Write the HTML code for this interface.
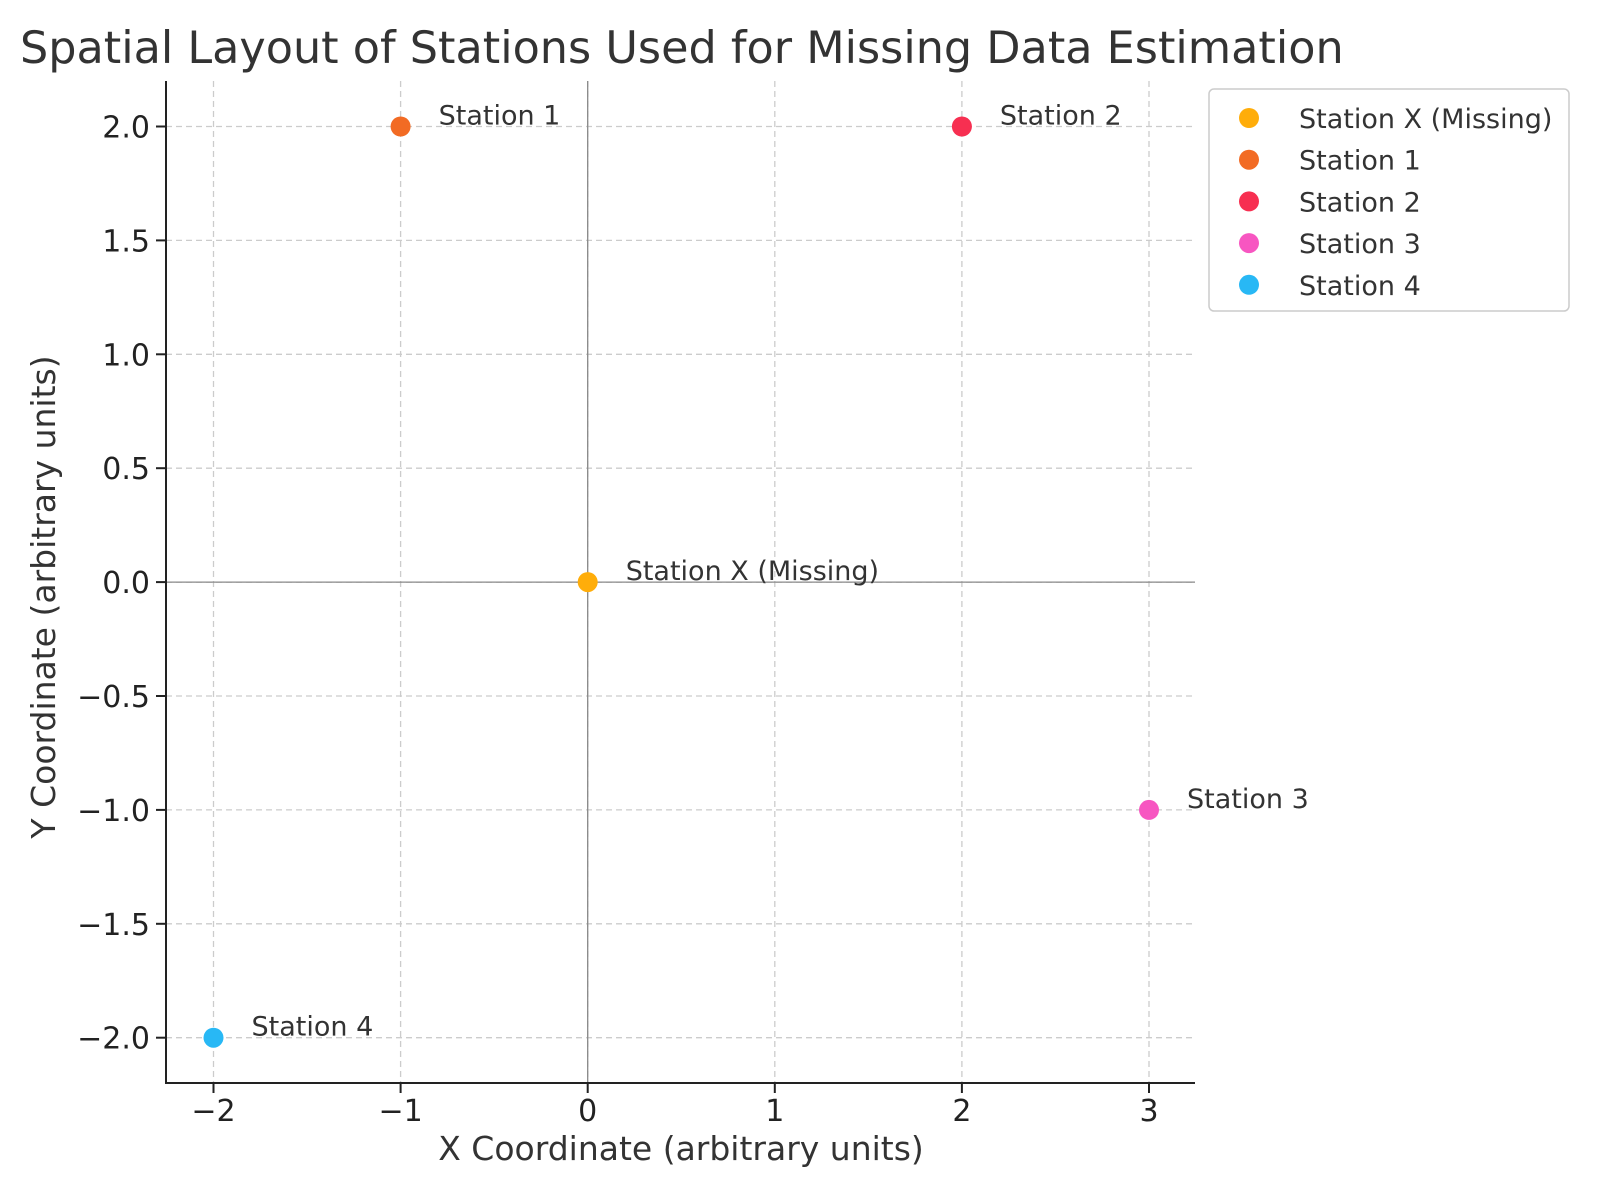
<!DOCTYPE html>
<html><head><meta charset="utf-8"><style>
body{margin:0;background:#fff}
svg{display:block;font-family:"DejaVu Sans","Liberation Sans",sans-serif}
</style></head><body>
<svg id="chart" width="1600" height="1200" viewBox="0 0 1600 1200">
<text x="20" y="63" font-size="44.5" fill="#333">Spatial Layout of Stations Used for Missing Data Estimation</text>
<g id="grid"></g><g id="axes"></g><g id="marks"></g><g id="legend"></g>
<text x="681" y="1160" font-size="33" fill="#333" text-anchor="middle">X Coordinate (arbitrary units)</text>
<text transform="translate(55,597) rotate(-90)" font-size="33" fill="#333" text-anchor="middle">Y Coordinate (arbitrary units)</text>
</svg>
<script>
const names=["Station X (Missing)","Station 1","Station 2","Station 3","Station 4"];
const xs=[0,-1,2,3,-2];
const ys=[0,2,2,-1,-2];
const colors=["#FFAD0A","#F26B24","#F72F51","#F756C1","#28B8F5"];
const xTicks=[-2,-1,0,1,2,3];
const yTicks=[-2,-1.5,-1,-0.5,0,0.5,1,1.5,2];
const L=166,R=1195,T=81,B=1083;
const X=v=>587.7+v*187.1, Y=v=>582.1-v*227.8;
const NS="http://www.w3.org/2000/svg";
function mk(p,t,a){const e=document.createElementNS(NS,t);for(const k in a)e.setAttribute(k,a[k]);p.appendChild(e);return e;}
const g=document.getElementById('grid'),ax=document.getElementById('axes'),m=document.getElementById('marks'),lg=document.getElementById('legend');
xTicks.forEach(v=>{
 const l=mk(g,'line',{x1:X(v),x2:X(v),y1:T,y2:B,stroke:'#ccc','stroke-dasharray':'6,4','stroke-width':1.3});
 
 
 const t=mk(ax,'line',{x1:X(v),x2:X(v),y1:B,y2:B+10,stroke:'#222','stroke-width':2});
 
 
 const s=mk(ax,'text',{x:X(v),y:B+38,'font-size':30,'text-anchor':'middle',fill:'#222'});
 s.textContent=v<0?'\u2212'+Math.abs(v):String(v);
 
 
});
yTicks.forEach(v=>{
 const l=mk(g,'line',{x1:L,x2:R,y1:Y(v),y2:Y(v),stroke:'#ccc','stroke-dasharray':'6,4','stroke-width':1.3});
 
 
 const t=mk(ax,'line',{x1:L-10,x2:L,y1:Y(v),y2:Y(v),stroke:'#222','stroke-width':2});
 
 
 const s=mk(ax,'text',{x:L-16,y:Y(v)+11,'font-size':30,'text-anchor':'end',fill:'#222'});
 s.textContent=(v<0?'\u2212':'')+Math.abs(v).toFixed(1);
 
 
});
const h=mk(g,'line',{x1:L,x2:R,y1:Y(0),y2:Y(0),stroke:'#888','stroke-width':1.3});


const v0=mk(g,'line',{x1:X(0),x2:X(0),y1:T,y2:B,stroke:'#888','stroke-width':1.3});


const sp=mk(ax,'path',{d:`M${L},${T}V${B}H${R}`,fill:'none',stroke:'#222','stroke-width':2});


names.forEach((n,i)=>{
 const c=mk(m,'circle',{cx:X(xs[i]),cy:Y(ys[i]),r:10,fill:colors[i]});
 
 
 const t=mk(m,'text',{x:X(xs[i])+38,y:Y(ys[i])-2,'font-size':27,fill:'#333'});
 t.textContent=n;
 
 
});
const box=mk(lg,'rect',{x:1209,y:89,width:360,height:222,rx:5,fill:'#fff',stroke:'#ccc','stroke-width':1.5});


names.forEach((n,i)=>{
 const y=118+i*41.7;
 const c=mk(lg,'circle',{cx:1249,cy:y,r:10,fill:colors[i]});
 
 
 const t=mk(lg,'text',{x:1299,y:y+10,'font-size':27,fill:'#333'});
 t.textContent=n;
 
 
});
</script>
</body></html>
